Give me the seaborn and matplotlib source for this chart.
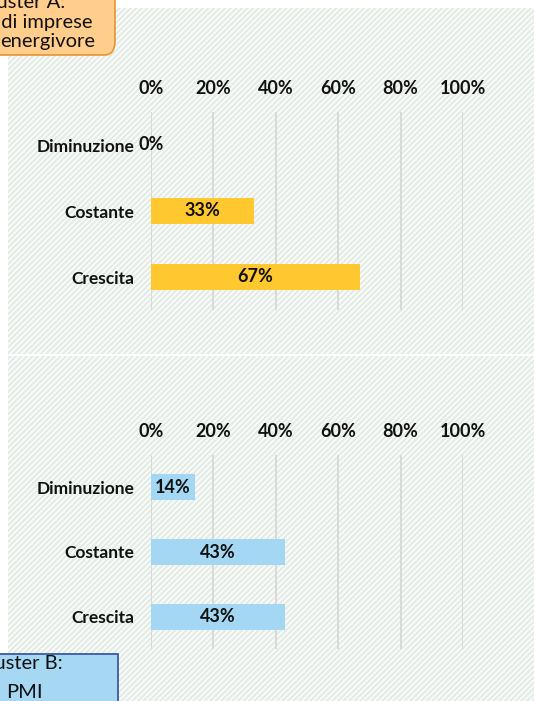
import numpy as np
import pandas as pd
import seaborn as sns
import matplotlib.pyplot as plt
from matplotlib.patches import Rectangle, FancyBboxPatch

categories = ["Diminuzione", "Costante", "Crescita"]
cluster_a = [0, 33, 67]
cluster_b = [14, 43, 43]
x_ticks = [0, 20, 40, 60, 80, 100]
label_a = ["Cluster A:", "Grandi imprese", "energivore"]
label_b = ["Cluster B:", "PMI"]

sns.set_theme(style="white")
plt.rcParams['font.family'] = ['Lato', 'DejaVu Sans']
plt.rcParams['hatch.color'] = '#E3ECE5'
plt.rcParams['hatch.linewidth'] = 1.6

W, H = 534, 701
fig = plt.figure(figsize=(W / 100, H / 100), dpi=100)
fig.patch.set_facecolor('white')

def fx(px):
    return px / W

def fy(py):
    return 1 - py / H

# hatched panel backgrounds
for top, bottom in [(8, 354), (356, 701)]:
    fig.patches.append(Rectangle((fx(8), fy(bottom)), fx(W - 8), (bottom - top) / H,
                                 transform=fig.transFigure, facecolor='#FBFCFB',
                                 edgecolor='#E3ECE5', hatch='//////', linewidth=0, zorder=-5))

def draw_panel(rect, values, color):
    ax = fig.add_axes(rect)
    ax.set_facecolor('none')
    df = pd.DataFrame({"cat": categories, "val": values})
    sns.barplot(data=df, x="val", y="cat", ax=ax, color=color, orient="h",
                width=0.4, saturation=1, edgecolor='none', zorder=3)
    ax.set_xlim(0, 100)
    ax.set_ylim(2.5, -0.5)
    ax.set_xticks(x_ticks)
    ax.set_xticklabels([f"{t}%" for t in x_ticks], fontsize=13, fontweight='bold')
    ax.xaxis.tick_top()
    ax.tick_params(axis='x', length=0, pad=11, colors='#111111')
    ax.tick_params(axis='y', length=0, pad=12, colors='#111111')
    for lab in ax.get_yticklabels():
        lab.set_fontsize(12.5)
        lab.set_fontweight('bold')
    ax.set_xlabel("")
    ax.set_ylabel("")
    ax.grid(axis='x', color='#D9D9D9', linewidth=1.4, zorder=0)
    ax.set_axisbelow(True)
    for s in ax.spines.values():
        s.set_visible(False)
    ax.bar_label(ax.containers[0], labels=[f"{v}%" for v in values], label_type='center',
                 fontsize=13, fontweight='bold', color='#111111')
    return ax

draw_panel([fx(151), fy(310), 312 / W, 198 / H], cluster_a, '#FFC82E')
draw_panel([fx(151), fy(649), 312 / W, 194 / H], cluster_b, '#A4D7F3')

# cluster boxes (partly cut off at the figure edge, as in the source)
fig.patches.append(FancyBboxPatch((fx(-20), fy(55)), fx(135), 75 / H,
                                  boxstyle="round,pad=0,rounding_size=0.02",
                                  transform=fig.transFigure, facecolor='#FFCD8C',
                                  edgecolor='#E8952E', linewidth=1.2, zorder=5))
for txt, x, y in zip(label_a, [65, 93, 95], [8, 28, 47]):
    fig.text(fx(x), fy(y), txt, ha='right', va='baseline', fontsize=14.5,
             color='#111111', zorder=6)

fig.patches.append(Rectangle((fx(-20), fy(720)), fx(138), 66 / H,
                             transform=fig.transFigure, facecolor='#A6D8F4',
                             edgecolor='#2F4E9E', linewidth=1.2, zorder=5))
for txt, x, y in zip(label_b, [63, 43], [669, 698]):
    fig.text(fx(x), fy(y), txt, ha='right', va='baseline', fontsize=14.5,
             color='#111111', zorder=6)

plt.savefig("out.png", dpi=100)
plt.close()
